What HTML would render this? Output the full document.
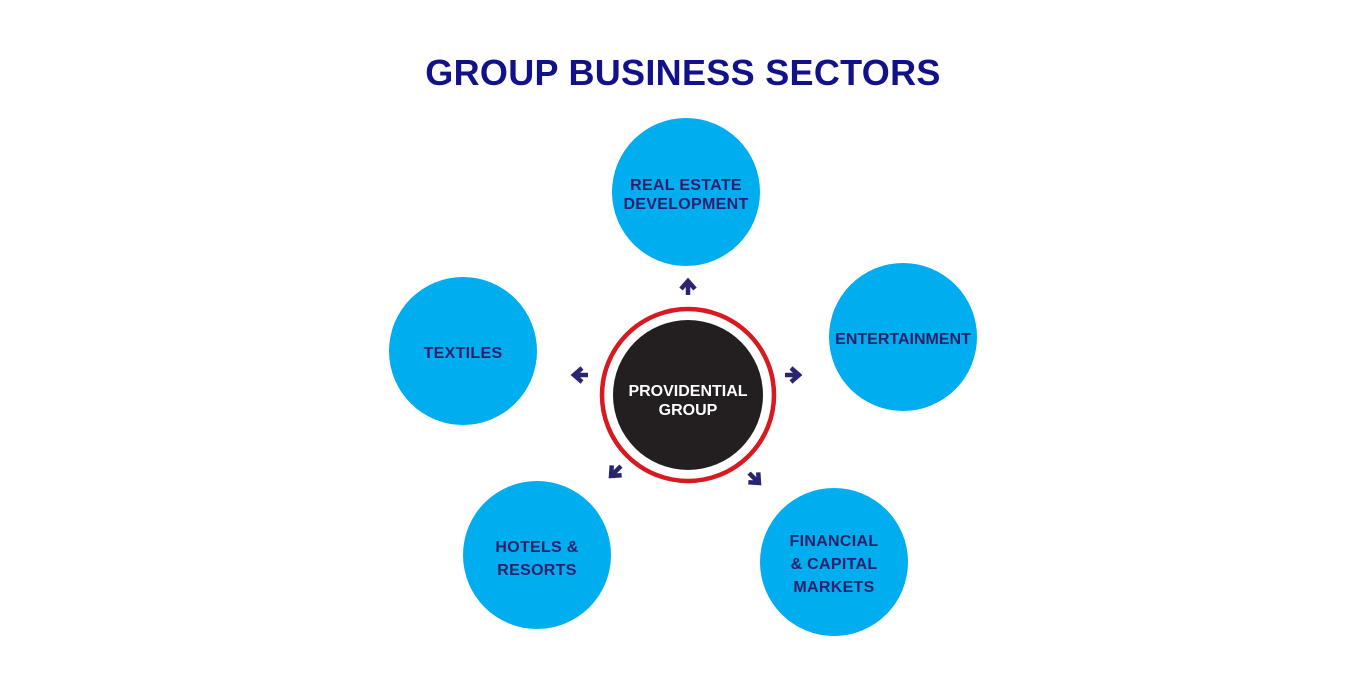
<!DOCTYPE html>
<html><head><style>
body{margin:0;width:1366px;height:700px;background:#fff;overflow:hidden;font-family:"Liberation Sans",Arial,sans-serif}
.t{position:absolute;left:0;width:1366px;top:52px;text-align:center;font-weight:bold;font-size:36px;color:#11118a;letter-spacing:0.3px}
</style></head><body>
<div class="t">GROUP BUSINESS SECTORS</div>
<svg width="1366" height="700" style="position:absolute;left:0;top:0" font-family="Liberation Sans, Arial, sans-serif" font-weight="bold">
<defs><g id="ar"><path d="M-1,-7 L7,0 L-1,7 M7,0 L-7,0" fill="none" stroke="#2a2570" stroke-width="4.5"/></g></defs>
<g fill="#00adef">
<circle cx="686" cy="192" r="74"/>
<circle cx="903" cy="337" r="74"/>
<circle cx="463" cy="351" r="74"/>
<circle cx="537" cy="555" r="74"/>
<circle cx="834" cy="562" r="74"/>
</g>
<circle cx="688" cy="395" r="86" fill="none" stroke="#d71920" stroke-width="4.5"/>
<circle cx="688" cy="395" r="75" fill="#231f20"/>
<g fill="#2e1f6b" font-size="16" text-anchor="middle" letter-spacing="0.3">
<text x="686" y="190">REAL ESTATE</text><text x="686" y="209">DEVELOPMENT</text>
<text x="903" y="344" letter-spacing="0">ENTERTAINMENT</text>
<text x="463" y="358">TEXTILES</text>
<text x="537" y="552">HOTELS &amp;</text><text x="537" y="575">RESORTS</text>
<text x="834" y="546">FINANCIAL</text><text x="834" y="569">&amp; CAPITAL</text><text x="834" y="592">MARKETS</text>
</g>
<g fill="#fff" font-size="16" text-anchor="middle">
<text x="688" y="396">PROVIDENTIAL</text><text x="688" y="415">GROUP</text>
</g>
<use href="#ar" transform="translate(688,288) rotate(-90)"/>
<use href="#ar" transform="translate(792,375)"/>
<use href="#ar" transform="translate(581,375) rotate(180)"/>
<use href="#ar" transform="translate(616,471) rotate(135)"/>
<use href="#ar" transform="translate(754,478) rotate(45)"/>
</svg>
</body></html>
